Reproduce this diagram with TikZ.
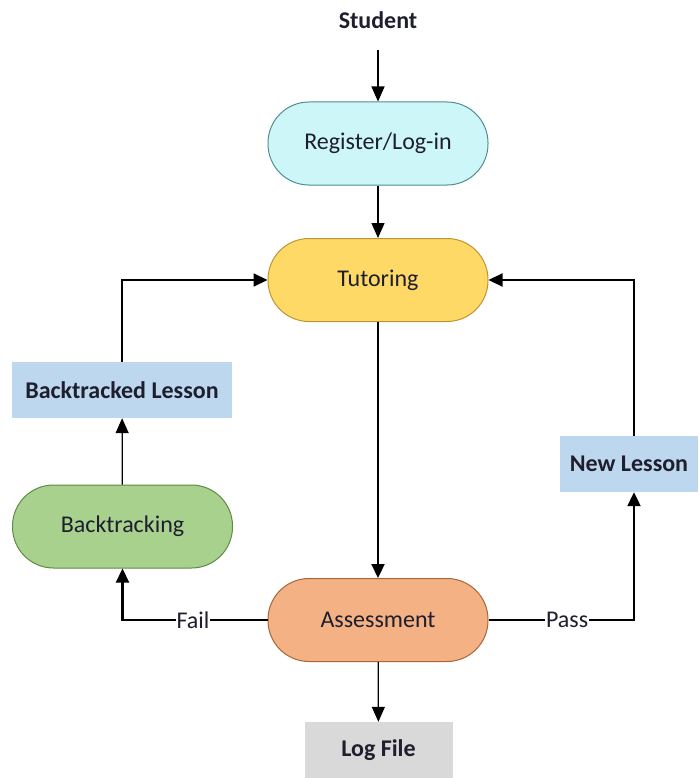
\documentclass[tikz,border=0pt]{standalone}
\usepackage{fontspec}
\setmainfont{Carlito}
\usetikzlibrary{arrows.meta}
\definecolor{regf}{HTML}{CDF6F9}
\definecolor{regd}{HTML}{4E8E93}
\definecolor{tutf}{HTML}{FFD966}
\definecolor{tutd}{HTML}{BF9430}
\definecolor{asmf}{HTML}{F4B183}
\definecolor{asmd}{HTML}{A8653A}
\definecolor{btf}{HTML}{A9D18E}
\definecolor{btd}{HTML}{5E8A45}
\definecolor{lesf}{HTML}{BDD7EE}
\definecolor{logf}{HTML}{D9D9D9}
\definecolor{txt}{HTML}{1E1E2E}
\begin{document}
\begin{tikzpicture}[x=1pt,y=-1pt,
  every node/.style={text=txt, font=\fontsize{24}{28}\selectfont},
  term/.style={draw, line width=1pt, rounded corners=41pt, minimum width=220pt, minimum height=83pt, inner sep=0pt},
  lesson/.style={fill=lesf, minimum height=56pt, inner sep=0pt, font=\fontsize{24}{28}\selectfont\bfseries},
  thinarr/.style={line width=1.3pt, -{Triangle[length=15pt,width=13pt]}},
  thickarr/.style={line width=2.2pt, -{Triangle[length=14pt,width=13pt]}},
  lbl/.style={fill=white, inner sep=1pt}
]
\useasboundingbox (0,0) rectangle (698,778);

\node[font=\fontsize{24}{28}\selectfont\bfseries] (student) at (378,20) {Student};
\node[term, fill=regf, draw=regd] (reg) at (378,143.5) {Register/Log-in};
\node[term, fill=tutf, draw=tutd] (tut) at (378,280) {Tutoring};
\node[term, fill=asmf, draw=asmd] (asm) at (378,620) {Assessment};
\node[term, fill=btf, draw=btd] (bt) at (122.5,526.5) {Backtracking};
\node[lesson, minimum width=220pt] (btl) at (122,390) {Backtracked Lesson};
\node[lesson, minimum width=138pt] (nl) at (629,464) {New Lesson};
\node[lesson, fill=logf, minimum width=148pt] (log) at (378.5,750) {Log File};

\draw[thinarr, shorten <=18pt] (student) -- (reg);
\draw[thinarr] (reg) -- (tut);
\draw[thickarr] (tut) -- (asm);
\draw[thinarr] (asm) -- (log);
\draw[thinarr] (bt) -- (btl);
\draw[thickarr] (btl.north) |- (tut.west);
\draw[thickarr] (asm.west) -| node[pos=0.257, lbl] {Fail} (bt.south);
\draw[thickarr] (asm.east) -| node[pos=0.27, lbl] {Pass} ([xshift=5pt]nl.south);
\draw[thickarr] ([xshift=5pt]nl.north) |- (tut.east);
\end{tikzpicture}
\end{document}
